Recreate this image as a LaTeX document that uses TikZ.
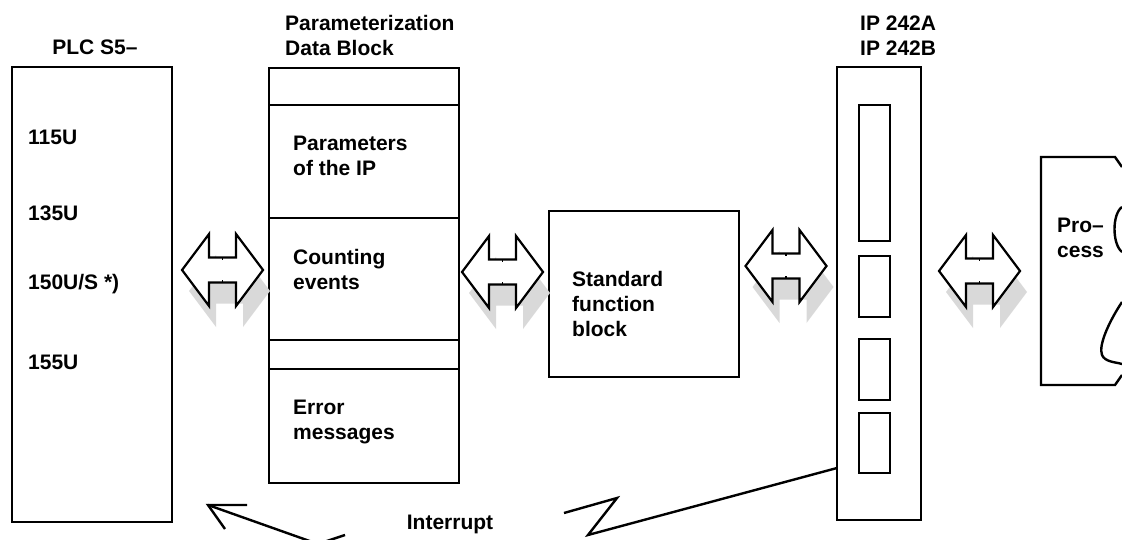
\documentclass[tikz,border=0pt]{standalone}
\usepackage{fontspec}
\setmainfont{Liberation Sans}
\usetikzlibrary{positioning}

\tikzset{
  box/.style={draw,line width=2.4pt,inner sep=0pt},
  lbl/.style={font=\bfseries\fontsize{21}{25}\selectfont,align=left,inner sep=0pt,anchor=north west},
  wire/.style={line width=2.4pt,line join=miter},
  busarrow/.pic={
    \fill[black!15,shift={(7,21)}] (-40.5,0) -- (-13.5,-36) -- (-13.5,-12.5) -- (13.5,-12.5) -- (13.5,-36)
      -- (40.5,0) -- (13.5,36) -- (13.5,12.5) -- (-13.5,12.5) -- (-13.5,36) -- cycle;
    \draw[line width=2.2pt,fill=white] (-40.5,0) -- (-13.5,-36) -- (-13.5,-12.5) -- (13.5,-12.5) -- (13.5,-36)
      -- (40.5,0) -- (13.5,36) -- (13.5,12.5) -- (-13.5,12.5) -- (-13.5,36) -- cycle;
    \draw[line width=1.4pt] (0,-12.5) -- (0,-10) (0,12.5) -- (0,10);
  }
}

\begin{document}
\begin{tikzpicture}[x=1pt,y=-1pt]
\useasboundingbox (0,0) rectangle (1122,540);
\clip (0,0) rectangle (1122,540);

% blocks
\node[box,minimum width=160pt,minimum height=455pt] (plc) at (92,294.5) {};
\node[box,minimum width=190pt,minimum height=415pt] (pdb) at (364,275.5) {};
\node[box,minimum width=190pt,minimum height=166pt] (sfb) at (644,294) {};
\node[box,minimum width=84pt,minimum height=453pt] (ip) at (879,293.5) {};

\foreach \y in {105,218,340,369}
  \draw[box] (269,\y) -- (459,\y);
\foreach \ya/\yb in {105/241,256/317,339/400,413/473}
  \draw[box] (859,\ya) rectangle (890,\yb);

% process
\draw[wire] (1122,167) -- (1115,157) -- (1041,157) -- (1041,385) -- (1115,385) -- (1122,375);
\draw[wire] (1122,207) .. controls (1112,214) and (1112,244) .. (1122,252);
\draw[wire] (1122,302) .. controls (1110,320) and (1098,345) .. (1102,355)
  .. controls (1105,362) and (1115,362) .. (1122,364);

% labels
\node[lbl,anchor=north] (plcT) at (95,39.5) {PLC S5–};
\node[lbl] (cpu1) at (28,129.5) {115U};
\node[lbl] (cpu2) at (28,205.5) {135U};
\node[lbl] (cpu3) at (28,274.5) {150U/S *)};
\node[lbl] (cpu4) at (28,354.5) {155U};
\node[lbl] (pdbT) at (285,15.5) {Parameterization\\Data Block};
\node[lbl] (par) at (293,135.5) {Parameters\\of the IP};
\node[lbl] (cnt) at (293,249.5) {Counting\\events};
\node[lbl] (err) at (293,399.5) {Error\\messages};
\node[lbl] (sfbT) at (572,271.5) {Standard\\function\\block};
\node[lbl] (ipT) at (860,15.5) {IP 242A\\IP 242B};
\node[lbl] (proc) at (1057,218) {Pro–\\cess};
\node[lbl,anchor=north] (irq) at (450,514.5) {Interrupt};

% bus arrows
\pic (bus1) at (222.5,270) {busarrow};
\pic (bus2) at (502.5,272) {busarrow};
\pic (bus3) at (786,266) {busarrow};
\pic (bus4) at (979.5,271) {busarrow};

% interrupt line
\coordinate (irqSrc) at (837,468);
\coordinate (irqTip) at (208,505);
\draw[wire] (irqSrc) -- (588,535) -- (617,498) -- (564,513);
\draw[wire] (345,535) -- (318,544) -- (irqTip);
\draw[wire] (247,505) -- (irqTip) -- (225,529);
\end{tikzpicture}
\end{document}
